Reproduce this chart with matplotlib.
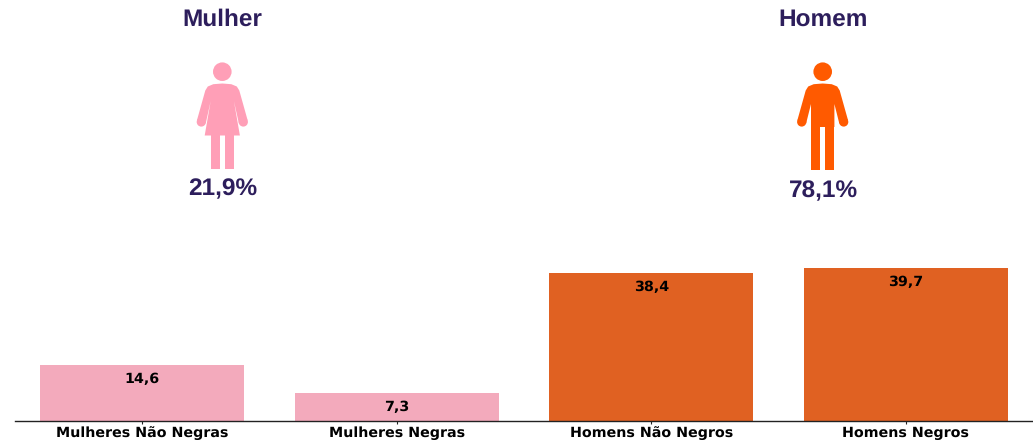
import matplotlib
matplotlib.use("Agg")
import matplotlib.pyplot as plt
from matplotlib.patches import Polygon, Circle, Rectangle

plt.rcParams["text.hinting"] = "no_hinting"

categories = ["Mulheres Não Negras", "Mulheres Negras", "Homens Não Negros", "Homens Negros"]
values = [14.6, 7.3, 38.4, 39.7]
value_labels = ["14,6", "7,3", "38,4", "39,7"]
group_titles = ["Mulher", "Homem"]
group_shares = ["21,9%", "78,1%"]

BAR_PINK = "#F3AABC"
BAR_ORANGE = "#E06122"
ICON_PINK = "#FF9FB7"
ICON_ORANGE = "#FF5A00"
INK = "#2D1E5C"
W, H = 1033, 443

fig = plt.figure(figsize=(W / 100, H / 100), dpi=100)
ax = fig.add_axes([15 / W, (H - 421) / H, (W - 15) / W, 421 / H])
ax.bar(range(4), values, width=0.8, color=[BAR_PINK, BAR_PINK, BAR_ORANGE, BAR_ORANGE])
ax.set_xlim(-0.5, 3.5)
ax.set_ylim(0, 421 / 3.854)
for s in ("top", "left", "right"):
    ax.spines[s].set_visible(False)
ax.spines["bottom"].set_color("#222222")
ax.spines["bottom"].set_linewidth(1.0)
ax.set_yticks([])
ax.set_xticks(range(4))
ax.set_xticklabels(categories, fontsize=10.3, fontweight="bold", family="DejaVu Sans")
ax.tick_params(axis="x", length=2, width=0.8, pad=1.6, color="#222222")
for i, (v, t) in enumerate(zip(values, value_labels)):
    ax.annotate(t, (i, v), xytext=(0, -10.4), textcoords="offset points", ha="center", va="center",
                fontsize=10.3, fontweight="bold", color="black", family="DejaVu Sans")

# overlay in pixel coordinates for pictograms and headings
ov = fig.add_axes([0, 0, 1, 1])
ov.set_xlim(0, W)
ov.set_ylim(H, 0)
ov.axis("off")
ov.patch.set_alpha(0)


def person(cx, color, female):
    half = [(0, 83.5), (9, 84.2), (14.5, 86.5), (17, 90.5), (25.4, 120.5), (16.6, 123.5)]
    if female:
        half += [(11.6, 101), (17.6, 135.5)]
    else:
        half += [(11.7, 104), (11.7, 127), (2.5, 127)]
    right = [(cx + x, y) for x, y in half]
    left = [(cx - x, y) for x, y in reversed(half)]
    ov.add_patch(Polygon(right + left, closed=True, color=color, lw=0))
    ov.add_patch(Circle((cx, 71.7), 9.3, color=color, lw=0))
    for sgn in (-1, 1):
        ov.add_patch(Circle((cx + sgn * 21, 122), 4.6, color=color, lw=0))
        leg_bottom = 169 if female else 170.3
        leg_top = 134 if female else 125
        x_in, x_out = 2.4, 11.7
        x0 = cx + x_in if sgn > 0 else cx - x_out
        ov.add_patch(Rectangle((x0, leg_top), x_out - x_in, leg_bottom - leg_top, color=color, lw=0))


person(222.3, ICON_PINK, True)
person(822.7, ICON_ORANGE, False)

for x, t, y in zip((222.8, 823), group_titles, (20, 20)):
    ov.text(x, y, t, ha="center", va="center", fontsize=17.6, fontweight="bold", color=INK,
            family="Liberation Sans")
for x, t, y in zip((222.5, 823.5), group_shares, (189, 191)):
    ov.text(x, y, t, ha="center", va="center", fontsize=17.6, fontweight="bold", color=INK,
            family="Liberation Sans")

fig.savefig("out.png", dpi=100, facecolor="white")
